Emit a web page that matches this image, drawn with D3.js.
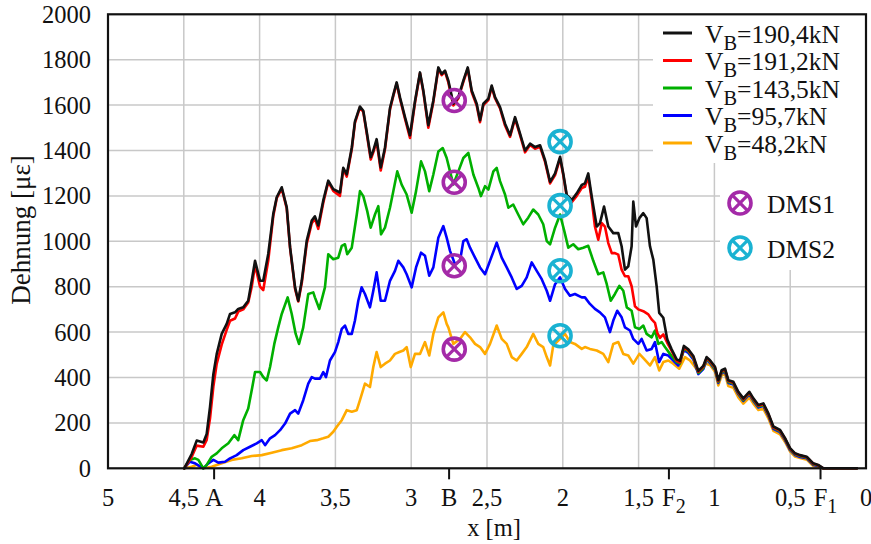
<!DOCTYPE html>
<html><head><meta charset="utf-8">
<script src="https://cdn.jsdelivr.net/npm/d3@7"></script>
<style>body{margin:0;background:#fff}svg{display:block}text{font-family:"Liberation Serif","Times New Roman",serif;fill:#111}</style>
</head><body>
<svg id="c" width="871" height="544"></svg>
<script>
// ---------- data ----------
const yTicks = [0,200,400,600,800,1000,1200,1400,1600,1800,2000];
const xTicks = [5,4.5,4,3.5,3,2.5,2,1.5,1,0.5,0];
const markTicks = [{x:4.3,t:"A",s:""},{x:2.75,t:"B",s:""},{x:1.3,t:"F",s:"2"},{x:0.3,t:"F",s:"1"}];
const seriesLoads = ["190,4","191,2","143,5","95,7","48,2"];
const seriesColors = ["#111111","#ff0000","#00b000","#0000ff","#ffaa00"];

const s190 = [[4.497,0],[4.448,63],[4.415,122],[4.371,114],[4.349,151],[4.327,270],[4.305,415],[4.283,503],[4.250,592],[4.217,636],[4.195,680],[4.162,687],[4.141,702],[4.108,709],[4.075,738],[4.052,826],[4.030,914],[3.997,826],[3.976,826],[3.943,944],[3.910,1120],[3.887,1194],[3.854,1238],[3.821,1150],[3.799,974],[3.766,797],[3.745,738],[3.722,826],[3.689,1003],[3.656,1091],[3.635,1110],[3.613,1070],[3.580,1180],[3.547,1267],[3.514,1230],[3.470,1215],[3.448,1324],[3.425,1295],[3.392,1412],[3.371,1528],[3.338,1594],[3.316,1575],[3.294,1485],[3.267,1370],[3.250,1400],[3.228,1450],[3.201,1325],[3.173,1412],[3.140,1587],[3.118,1645],[3.096,1700],[3.074,1634],[3.041,1547],[3.008,1467],[2.975,1617],[2.942,1744],[2.920,1664],[2.887,1511],[2.854,1620],[2.821,1766],[2.799,1737],[2.777,1752],[2.755,1708],[2.722,1606],[2.689,1635],[2.656,1708],[2.627,1766],[2.601,1664],[2.568,1606],[2.546,1533],[2.524,1606],[2.491,1628],[2.469,1686],[2.447,1635],[2.414,1591],[2.381,1518],[2.348,1467],[2.315,1547],[2.282,1474],[2.249,1400],[2.216,1430],[2.183,1415],[2.150,1423],[2.117,1357],[2.084,1262],[2.051,1299],[2.018,1372],[1.997,1299],[1.974,1204],[1.941,1182],[1.908,1211],[1.875,1248],[1.854,1255],[1.832,1299],[1.809,1197],[1.776,1065],[1.755,1080],[1.728,1153],[1.700,1065],[1.667,1036],[1.634,1036],[1.612,978],[1.590,875],[1.568,890],[1.546,978],[1.535,1175],[1.517,1065],[1.495,1102],[1.469,1124],[1.447,1102],[1.425,978],[1.403,919],[1.381,802],[1.364,685],[1.337,663],[1.311,568],[1.282,524],[1.249,480],[1.227,473],[1.201,539],[1.172,524],[1.139,495],[1.106,429],[1.073,451],[1.051,490],[1.029,476],[0.996,447],[0.974,388],[0.952,432],[0.930,439],[0.908,388],[0.875,381],[0.842,337],[0.809,308],[0.770,337],[0.743,308],[0.710,279],[0.677,286],[0.644,242],[0.611,184],[0.567,169],[0.534,133],[0.501,89],[0.468,66],[0.435,58],[0.391,51],[0.348,22],[0.315,15],[0.282,0],[0.060,0]];

const s191 = [[4.497,0],[4.448,50],[4.415,100],[4.371,95],[4.349,125],[4.327,220],[4.305,360],[4.283,460],[4.250,545],[4.217,610],[4.195,650],[4.162,660],[4.141,690],[4.108,700],[4.075,730],[4.052,800],[4.030,895],[3.997,800],[3.976,785],[3.943,915],[3.910,1110],[3.887,1190],[3.854,1232],[3.821,1145],[3.799,970],[3.766,790],[3.745,735],[3.722,815],[3.689,990],[3.656,1080],[3.635,1100],[3.613,1055],[3.580,1170],[3.547,1262],[3.514,1222],[3.470,1200],[3.448,1318],[3.425,1285],[3.392,1405],[3.371,1522],[3.338,1590],[3.316,1570],[3.294,1478],[3.267,1360],[3.250,1392],[3.228,1440],[3.201,1312],[3.173,1405],[3.140,1580],[3.118,1640],[3.096,1695],[3.074,1628],[3.041,1540],[3.008,1455],[2.975,1610],[2.942,1740],[2.920,1658],[2.887,1500],[2.854,1614],[2.821,1760],[2.799,1732],[2.777,1748],[2.755,1700],[2.722,1598],[2.689,1630],[2.656,1702],[2.627,1760],[2.601,1658],[2.568,1598],[2.546,1525],[2.524,1600],[2.491,1622],[2.469,1680],[2.447,1630],[2.414,1585],[2.381,1510],[2.348,1460],[2.315,1540],[2.282,1468],[2.249,1392],[2.216,1424],[2.183,1408],[2.150,1416],[2.117,1350],[2.084,1255],[2.051,1292],[2.018,1365],[1.997,1292],[1.974,1198],[1.941,1172],[1.908,1200],[1.875,1235],[1.854,1240],[1.832,1284],[1.809,1182],[1.788,1065],[1.766,1007],[1.743,1080],[1.722,1065],[1.700,992],[1.677,948],[1.656,948],[1.634,941],[1.612,875],[1.590,846],[1.568,846],[1.546,802],[1.524,714],[1.502,700],[1.469,692],[1.436,678],[1.414,656],[1.392,641],[1.377,597],[1.359,575],[1.337,590],[1.311,553],[1.282,517],[1.249,473],[1.227,466],[1.201,533],[1.172,519],[1.139,490],[1.106,425],[1.073,447],[1.051,486],[1.029,472],[0.996,443],[0.974,384],[0.952,428],[0.930,435],[0.908,384],[0.875,377],[0.842,333],[0.809,304],[0.770,333],[0.743,304],[0.710,276],[0.677,282],[0.644,238],[0.611,180],[0.567,166],[0.534,130],[0.501,86],[0.468,64],[0.435,56],[0.391,49],[0.348,20],[0.315,13],[0.282,0],[0.060,0]];

const s143 = [[4.497,0],[4.461,37],[4.426,44],[4.404,37],[4.371,0],[4.349,15],[4.316,51],[4.283,66],[4.250,88],[4.206,110],[4.167,146],[4.141,124],[4.108,212],[4.075,263],[4.048,358],[4.030,424],[3.997,424],[3.976,402],[3.953,387],[3.931,446],[3.903,548],[3.877,621],[3.854,680],[3.815,753],[3.788,680],[3.762,592],[3.740,548],[3.712,621],[3.679,768],[3.646,775],[3.635,753],[3.606,702],[3.569,797],[3.547,943],[3.514,921],[3.481,928],[3.458,980],[3.437,987],[3.422,943],[3.392,972],[3.359,1118],[3.338,1221],[3.316,1199],[3.290,1133],[3.267,1060],[3.239,1118],[3.217,1155],[3.199,1031],[3.173,1060],[3.140,1148],[3.118,1221],[3.092,1308],[3.063,1250],[3.030,1206],[2.997,1126],[2.968,1221],[2.935,1352],[2.909,1308],[2.881,1221],[2.854,1294],[2.821,1396],[2.792,1411],[2.766,1367],[2.744,1308],[2.722,1250],[2.689,1308],[2.656,1367],[2.623,1389],[2.590,1294],[2.557,1235],[2.540,1199],[2.513,1243],[2.491,1228],[2.458,1308],[2.436,1323],[2.414,1265],[2.381,1206],[2.359,1148],[2.327,1162],[2.294,1118],[2.261,1075],[2.228,1104],[2.195,1140],[2.162,1118],[2.129,1075],[2.106,1001],[2.084,987],[2.051,1060],[2.018,1118],[1.990,1045],[1.964,972],[1.931,987],[1.898,965],[1.865,972],[1.832,980],[1.799,914],[1.766,855],[1.733,863],[1.710,811],[1.684,738],[1.656,768],[1.627,804],[1.601,782],[1.578,709],[1.546,694],[1.524,621],[1.495,614],[1.469,629],[1.447,592],[1.414,577],[1.392,607],[1.370,548],[1.348,556],[1.326,534],[1.293,504],[1.249,468],[1.227,462],[1.201,528],[1.172,515],[1.139,486],[1.106,420],[1.073,442],[1.051,482],[1.029,468],[0.996,438],[0.974,380],[0.952,424],[0.930,430],[0.908,380],[0.875,373],[0.842,330],[0.809,300],[0.770,330],[0.743,300],[0.710,272],[0.677,279],[0.644,235],[0.611,178],[0.567,163],[0.534,128],[0.501,84],[0.468,62],[0.435,54],[0.391,47],[0.348,18],[0.315,12],[0.282,0],[0.060,0]];

const s95 = [[4.497,0],[4.461,29],[4.426,22],[4.371,0],[4.338,22],[4.305,37],[4.272,25],[4.228,29],[4.195,44],[4.151,58],[4.108,80],[4.063,95],[4.019,110],[3.986,124],[3.964,102],[3.931,132],[3.898,146],[3.865,168],[3.832,197],[3.799,241],[3.766,256],[3.745,241],[3.712,300],[3.679,373],[3.656,402],[3.635,395],[3.602,395],[3.580,424],[3.562,402],[3.536,475],[3.503,512],[3.481,556],[3.458,614],[3.437,629],[3.415,592],[3.392,592],[3.371,651],[3.349,738],[3.327,797],[3.305,768],[3.272,709],[3.250,782],[3.228,863],[3.201,738],[3.173,738],[3.140,826],[3.107,870],[3.085,914],[3.052,885],[3.030,855],[2.997,797],[2.968,885],[2.935,950],[2.909,936],[2.881,848],[2.854,885],[2.821,1016],[2.788,1067],[2.766,1016],[2.744,958],[2.711,899],[2.678,914],[2.656,1001],[2.634,1009],[2.612,972],[2.579,928],[2.546,885],[2.513,855],[2.480,914],[2.436,994],[2.403,928],[2.370,885],[2.337,841],[2.304,790],[2.271,804],[2.238,841],[2.205,907],[2.172,870],[2.139,833],[2.106,782],[2.084,738],[2.051,811],[2.018,841],[1.985,790],[1.953,760],[1.920,768],[1.875,753],[1.854,753],[1.821,724],[1.788,702],[1.755,687],[1.722,665],[1.689,600],[1.667,651],[1.641,694],[1.612,665],[1.590,621],[1.557,607],[1.535,570],[1.502,548],[1.480,570],[1.447,519],[1.414,526],[1.392,556],[1.365,468],[1.337,504],[1.304,497],[1.271,475],[1.238,453],[1.201,520],[1.172,508],[1.139,480],[1.106,415],[1.073,437],[1.051,478],[1.029,464],[0.996,434],[0.974,376],[0.952,420],[0.930,426],[0.908,376],[0.875,369],[0.842,326],[0.809,297],[0.770,326],[0.743,297],[0.710,268],[0.677,275],[0.644,231],[0.611,174],[0.567,159],[0.534,124],[0.501,80],[0.468,58],[0.435,50],[0.391,44],[0.348,15],[0.315,10],[0.282,0],[0.060,0]];

const s48 = [[4.497,0],[4.448,7],[4.415,15],[4.371,0],[4.316,7],[4.250,22],[4.184,37],[4.118,44],[4.052,54],[3.986,58],[3.920,69],[3.854,80],[3.788,88],[3.722,102],[3.668,120],[3.623,124],[3.580,132],[3.547,139],[3.514,161],[3.491,183],[3.458,212],[3.425,256],[3.392,249],[3.359,256],[3.338,300],[3.305,373],[3.272,358],[3.250,446],[3.228,512],[3.201,446],[3.173,461],[3.140,475],[3.107,504],[3.078,512],[3.052,519],[3.030,534],[3.003,446],[2.975,504],[2.942,504],[2.909,556],[2.881,497],[2.854,592],[2.821,665],[2.788,687],[2.766,636],[2.755,621],[2.722,548],[2.678,570],[2.645,600],[2.612,577],[2.579,548],[2.546,534],[2.513,504],[2.480,548],[2.436,629],[2.403,570],[2.370,548],[2.337,490],[2.304,475],[2.271,504],[2.238,534],[2.195,592],[2.162,548],[2.129,534],[2.106,490],[2.084,453],[2.063,541],[2.018,570],[1.985,592],[1.953,556],[1.920,548],[1.875,526],[1.854,534],[1.821,526],[1.776,519],[1.733,504],[1.700,468],[1.667,548],[1.634,556],[1.601,504],[1.568,497],[1.535,461],[1.495,504],[1.464,482],[1.425,453],[1.392,490],[1.364,431],[1.337,468],[1.304,475],[1.271,461],[1.232,439],[1.194,490],[1.161,475],[1.128,446],[1.100,424],[1.062,462],[1.029,455],[0.996,425],[0.974,365],[0.952,410],[0.930,415],[0.908,362],[0.875,355],[0.842,312],[0.809,285],[0.770,312],[0.743,285],[0.710,257],[0.677,262],[0.644,220],[0.611,165],[0.567,150],[0.534,116],[0.501,74],[0.468,52],[0.435,45],[0.391,38],[0.348,10],[0.315,5],[0.282,0],[0.060,0]];

const dms1X = 2.716, dms1Y = [1620,1260,892,525];
const dms2X = 2.018, dms2Y = [1439,1157,870,584];
const dmsLabels = ["DMS1","DMS2"];
const dmsColors = ["#a42aa8","#1ab2d2"];

// ---------- drawing ----------
const svg = d3.select("#c");
const L=108, R=866, T=14.3, B=468.3;
const x = d3.scaleLinear().domain([5,0]).range([L,R]);
const y = d3.scaleLinear().domain([0,2000]).range([B,T]);
const FS = 24.5, LFS = 25.5;

// grid
const g = svg.append("g");
g.selectAll(".gx").data(xTicks.filter(d=>d>0&&d<5)).join("line")
  .attr("x1",d=>x(d)).attr("x2",d=>x(d)).attr("y1",T).attr("y2",B)
  .attr("stroke","#c8c8c8").attr("stroke-width",1.5);
g.selectAll(".gy").data(yTicks.filter(d=>d>0&&d<2000)).join("line")
  .attr("x1",L).attr("x2",R).attr("y1",d=>y(d)).attr("y2",d=>y(d))
  .attr("stroke","#c8c8c8").attr("stroke-width",1.5);

// legend backgrounds (hide grid)
svg.append("rect").attr("x",653).attr("y",T).attr("width",R-653).attr("height",163-T).attr("fill","#fff");
svg.append("rect").attr("x",720).attr("y",163).attr("width",R-720).attr("height",270-163).attr("fill","#fff");

// series
const allSeries = [s190,s191,s143,s95,s48];
const line = d3.line().x(d=>x(d[0])).y(d=>y(d[1]));
const order = [4,3,2,1,0];
order.forEach(i=>{
  svg.append("path").datum(allSeries[i]).attr("d",line)
    .attr("fill","none").attr("stroke",seriesColors[i]).attr("stroke-width",2.6)
    .attr("stroke-linejoin","round").attr("stroke-linecap","round");
});

// DMS markers
function marker(sel, cx, cy, col){
  const r=11, k=r*0.7071;
  const m = sel.append("g").attr("transform",`translate(${cx},${cy})`);
  m.append("circle").attr("r",r).attr("fill","none").attr("stroke",col).attr("stroke-width",3.6);
  m.append("line").attr("x1",-k).attr("y1",-k).attr("x2",k).attr("y2",k).attr("stroke",col).attr("stroke-width",3.2);
  m.append("line").attr("x1",-k).attr("y1",k).attr("x2",k).attr("y2",-k).attr("stroke",col).attr("stroke-width",3.2);
}
dms1Y.forEach(v=>marker(svg,x(dms1X),y(v),dmsColors[0]));
dms2Y.forEach(v=>marker(svg,x(dms2X),y(v),dmsColors[1]));

// frame
svg.append("rect").attr("x",L).attr("y",T).attr("width",R-L).attr("height",B-T)
  .attr("fill","none").attr("stroke","#111").attr("stroke-width",2.2);

// y axis labels
svg.selectAll(".yl").data(yTicks).join("text")
  .attr("x",L-17).attr("y",d=>y(d)+8.5).attr("text-anchor","end")
  .attr("font-size",FS).text(d=>d);

// x axis labels
svg.selectAll(".xl").data(xTicks).join("text")
  .attr("x",d=>x(d)).attr("y",506).attr("text-anchor","middle")
  .attr("font-size",FS).text(d=>String(d).replace(".",","));

// special ticks
markTicks.forEach(m=>{
  svg.append("line").attr("x1",x(m.x)).attr("x2",x(m.x)).attr("y1",B).attr("y2",B+11)
    .attr("stroke","#111").attr("stroke-width",2);
  const t = svg.append("text").attr("y",506).attr("font-size",FS);
  if(m.s){
    t.attr("x",x(m.x)-6.8).attr("text-anchor","start");
    t.append("tspan").text(m.t);
    t.append("tspan").attr("dy",7).attr("font-size",FS*0.82).text(m.s);
  } else {
    t.attr("x",x(m.x)).attr("text-anchor","middle").text(m.t);
  }
});

// axis titles
svg.append("text").attr("x",494).attr("y",536).attr("text-anchor","middle").attr("font-size",FS).text("x [m]");
svg.append("text").attr("transform",`translate(30,230) rotate(-90)`).attr("text-anchor","middle")
  .attr("font-size",27).text("Dehnung [με]");

// legend
const lg = svg.append("g");
seriesLoads.forEach((s,i)=>{
  const yy = 33 + i*27.5;
  lg.append("line").attr("x1",663).attr("x2",692).attr("y1",yy).attr("y2",yy)
    .attr("stroke",seriesColors[i]).attr("stroke-width",3);
  const t = lg.append("text").attr("x",705).attr("y",yy+9.5).attr("font-size",LFS);
  t.append("tspan").text("V");
  t.append("tspan").attr("dy",7).attr("font-size",LFS*0.8).text("B");
  t.append("tspan").attr("dy",-7).text("="+s+"kN");
});
dmsLabels.forEach((s,i)=>{
  const yy = 203 + i*45;
  marker(lg,740,yy,dmsColors[i]);
  lg.append("text").attr("x",767).attr("y",yy+9.5).attr("font-size",LFS).text(s);
});
</script>
</body></html>
